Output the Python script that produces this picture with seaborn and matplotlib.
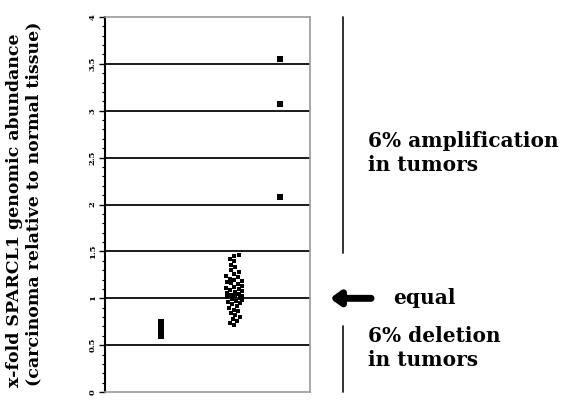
import numpy as np
import pandas as pd
import matplotlib
matplotlib.use("Agg")
import matplotlib.pyplot as plt
import seaborn as sns

# x-fold SPARCL1 genomic abundance
group_a = [0.60, 0.63, 0.66, 0.69, 0.72, 0.75]
group_b = [1.46, 1.45, 1.42, 1.40, 1.36, 1.33, 1.30, 1.28, 1.26, 1.24,
           1.23, 1.21, 1.20, 1.18, 1.17, 1.16, 1.15, 1.13, 1.12, 1.11,
           1.10, 1.09, 1.08, 1.07, 1.06, 1.05, 1.04, 1.03, 1.02, 1.01,
           1.00, 0.99, 0.98, 0.97, 0.96, 0.95, 0.94, 0.92, 0.90, 0.88,
           0.86, 0.84, 0.82, 0.80, 0.78, 0.76, 0.74, 0.72]
group_c = [3.55, 3.07, 2.08]
y_ticks = [0, 0.5, 1, 1.5, 2, 2.5, 3, 3.5, 4]
y_tick_labels = ["0", "0.5", "1", "1.5", "2", "2.5", "3", "3.5", "4"]

df = pd.DataFrame({
    "group": ["A"] * len(group_a) + ["B"] * len(group_b) + ["C"] * len(group_c),
    "fold": group_a + group_b + group_c,
})
# horizontal placement of each group inside the panel
group_pos = {"A": 2.75, "B": 6.3, "C": 8.55}
df["x"] = df["group"].map(group_pos)
single = df[df["group"] != "B"]
cluster = df[df["group"] == "B"]

sns.set_style("white")
plt.rcParams["font.family"] = ["DejaVu Serif"]
plt.rcParams["text.color"] = "black"
plt.rcParams["ytick.color"] = "black"

fig = plt.figure(figsize=(5.64, 4.03), dpi=100)
ax = fig.add_axes([0.186, 0.027, 0.364, 0.931])

sns.stripplot(data=single, x="x", y="fold", native_scale=True, jitter=False,
              marker="s", color="black", size=3.7, linewidth=0, ax=ax)
sns.swarmplot(data=cluster, x="x", y="fold", native_scale=True, marker="s",
              color="black", size=3.3, linewidth=0, ax=ax, warn_thresh=1)

ax.set_xlim(0, 10)
ax.set_ylim(0, 4)
for v in y_ticks[1:-1]:
    ax.axhline(v, color="#1a1a1a", lw=1.4, zorder=0)

ax.set_yticks(y_ticks)
ax.set_yticklabels(y_tick_labels, rotation=90, va="center", fontsize=6,
                   fontweight="bold")
ax.set_yticks(np.arange(0, 4.01, 0.1), minor=True)
ax.tick_params(axis="y", which="major", length=4, width=1, left=True,
               pad=2, color="black")
ax.tick_params(axis="y", which="minor", length=2.5, width=0.8, left=True,
               color="black")
ax.set_xticks([])
ax.set_xlabel("")
ax.set_ylabel("")

for side in ["top", "right", "bottom"]:
    ax.spines[side].set_color("#999999")
    ax.spines[side].set_linewidth(1.2)
ax.spines["left"].set_color("black")
ax.spines["left"].set_linewidth(1.5)

fig.text(0.025, 0.479, "x-fold SPARCL1 genomic abundance",
         rotation=90, ha="center", va="center", fontsize=12.5, fontweight="bold")
fig.text(0.06, 0.495, "(carcinoma relative to normal tissue)",
         rotation=90, ha="center", va="center", fontsize=12.5, fontweight="bold")

# annotations on the right
tr = ax.get_yaxis_transform()
ax.plot([1.16, 1.16], [4, 1.48], transform=tr, color="#222222",
        lw=1.3, clip_on=False)
ax.plot([1.16, 1.16], [0.71, 0], transform=tr, color="#222222",
        lw=1.3, clip_on=False)
ax.text(1.283, 2.55, "6% amplification\nin tumors", transform=tr,
        fontsize=14.5, fontweight="bold", va="center", ha="left",
        linespacing=1.25)
ax.text(1.283, 0.47, "6% deletion\nin tumors", transform=tr,
        fontsize=14.5, fontweight="bold", va="center", ha="left",
        linespacing=1.25)
ax.annotate("", xy=(1.083, 1.0), xytext=(1.31, 1.0), xycoords=tr,
            textcoords=tr,
            arrowprops=dict(arrowstyle="-|>,head_length=0.55,head_width=0.4",
                            color="black", lw=5),
            annotation_clip=False)
ax.text(1.405, 1.0, "equal", transform=tr, fontsize=14.5, fontweight="bold",
        va="center", ha="left")

fig.savefig("out.png", dpi=100, facecolor="white")
